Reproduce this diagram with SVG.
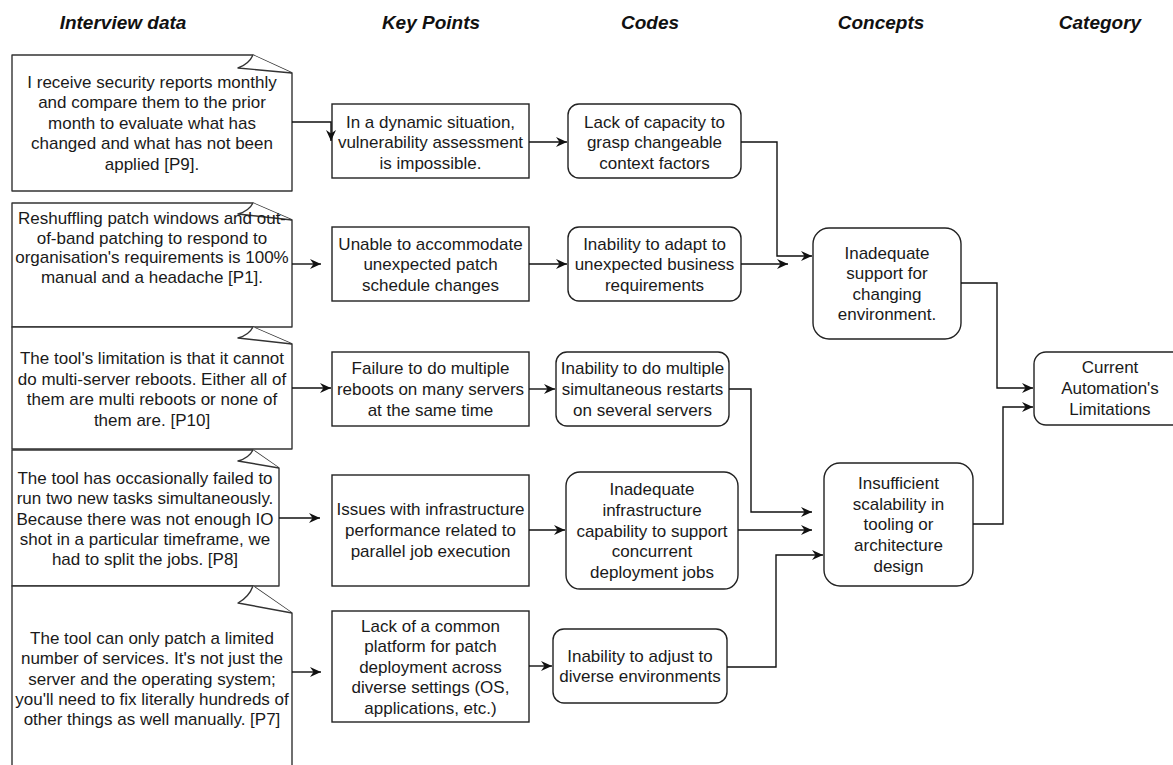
<svg xmlns="http://www.w3.org/2000/svg" width="1173" height="765" viewBox="0 0 1173 765">
<style>
.hdr{font-family:"Liberation Sans",Arial,sans-serif;font-size:19px;font-weight:bold;font-style:italic;fill:#111;text-anchor:middle}
.t{font-family:"Liberation Sans",Arial,sans-serif;font-size:17px;fill:#1a1a1a;text-anchor:middle}
.box{fill:#fff;stroke:#222;stroke-width:1.4}
.note{fill:#fff;stroke:#333;stroke-width:1.4;stroke-linejoin:round}
.edge{fill:none;stroke:#111;stroke-width:1.4}
</style>
<defs>
<marker id="arr" markerUnits="userSpaceOnUse" markerWidth="13" markerHeight="11" refX="11" refY="5" orient="auto">
<path d="M0,0 L11,5 L0,10 L3.5,5 Z" fill="#111"/>
</marker>
</defs>
<rect width="1173" height="765" fill="#fff"/>

<g id="headers">
<text class="hdr" x="123" y="29">Interview data</text>
<text class="hdr" x="431" y="29">Key Points</text>
<text class="hdr" x="650" y="29">Codes</text>
<text class="hdr" x="881" y="29">Concepts</text>
<text class="hdr" x="1100" y="29">Category</text>
</g>

<g id="note1">
<path class="note" d="M12,55 H253 L292,73 V191 H12 Z"/>
<path class="note" d="M253,55 Q249,64 238,68 L292,73"/>
<text class="t" x="152" y="88"><tspan x="152">I receive security reports monthly</tspan><tspan x="152" dy="20.4">and compare them to the prior</tspan><tspan x="152" dy="20.4">month to evaluate what has</tspan><tspan x="152" dy="20.4">changed and what has not been</tspan><tspan x="152" dy="20.4">applied [P9].</tspan></text>
</g>

<g id="note2">
<path class="note" d="M12,203 H253 L292,220 V327 H12 Z"/>
<path class="note" d="M253,203 Q249,211 238,214 L292,220"/>
<text class="t" x="152" y="224"><tspan x="152">Reshuffling patch windows and out-</tspan><tspan x="152" dy="19.7">of-band patching to respond to</tspan><tspan x="152" dy="19.7">organisation's requirements is 100%</tspan><tspan x="152" dy="19.7">manual and a headache [P1].</tspan></text>
</g>

<g id="note3">
<path class="note" d="M12,327 H253 L292,344 V449 H12 Z"/>
<path class="note" d="M253,327 Q249,335 238,338 L292,344"/>
<text class="t" x="152" y="364"><tspan x="152">The tool's limitation is that it cannot</tspan><tspan x="152" dy="20.6">do multi-server reboots. Either all of</tspan><tspan x="152" dy="20.6">them are multi reboots or none of</tspan><tspan x="152" dy="20.6">them are. [P10]</tspan></text>
</g>

<g id="note4">
<path class="note" d="M12,450 H253 L279,468 V586 H12 Z"/>
<path class="note" d="M253,450 Q249,458 238,461 L279,468"/>
<text class="t" x="145" y="484"><tspan x="145">The tool has occasionally failed to</tspan><tspan x="145" dy="20.3">run two new tasks simultaneously.</tspan><tspan x="145" dy="20.3">Because there was not enough IO</tspan><tspan x="145" dy="20.3">shot in a particular timeframe, we</tspan><tspan x="145" dy="20.3">had to split the jobs. [P8]</tspan></text>
</g>

<g id="note5">
<path class="note" d="M12,586 H253 L292,613 V775 H12 Z"/>
<path class="note" d="M253,586 Q249,597 238,603 L292,613"/>
<text class="t" x="152" y="644"><tspan x="152">The tool can only patch a limited</tspan><tspan x="152" dy="20.3">number of services. It's not just the</tspan><tspan x="152" dy="20.3">server and the operating system;</tspan><tspan x="152" dy="20.3">you'll need to fix literally hundreds of</tspan><tspan x="152" dy="20.3">other things as well manually. [P7]</tspan></text>
</g>

<g id="kp1">
<rect class="box" x="332" y="104" width="197" height="74"/>
<text class="t" x="430.5" y="128"><tspan x="430.5">In a dynamic situation,</tspan><tspan x="430.5" dy="20.4">vulnerability assessment</tspan><tspan x="430.5" dy="20.4">is impossible.</tspan></text>
</g>
<g id="kp2">
<rect class="box" x="332" y="227" width="197" height="74"/>
<text class="t" x="430.5" y="250"><tspan x="430.5">Unable to accommodate</tspan><tspan x="430.5" dy="20.4">unexpected patch</tspan><tspan x="430.5" dy="20.4">schedule changes</tspan></text>
</g>
<g id="kp3">
<rect class="box" x="332" y="352" width="197" height="74"/>
<text class="t" x="430.5" y="374"><tspan x="430.5">Failure to do multiple</tspan><tspan x="430.5" dy="20.8">reboots on many servers</tspan><tspan x="430.5" dy="20.8">at the same time</tspan></text>
</g>
<g id="kp4">
<rect class="box" x="332" y="475" width="197" height="111"/>
<text class="t" x="430.5" y="515"><tspan x="430.5">Issues with infrastructure</tspan><tspan x="430.5" dy="21">performance related to</tspan><tspan x="430.5" dy="21">parallel job execution</tspan></text>
</g>
<g id="kp5">
<rect class="box" x="332" y="611" width="197" height="111"/>
<text class="t" x="430.5" y="632"><tspan x="430.5">Lack of a common</tspan><tspan x="430.5" dy="20.4">platform for patch</tspan><tspan x="430.5" dy="20.4">deployment across</tspan><tspan x="430.5" dy="20.4">diverse settings (OS,</tspan><tspan x="430.5" dy="20.4">applications, etc.)</tspan></text>
</g>

<g id="code1">
<rect class="box" x="568" y="104" width="173" height="74" rx="11"/>
<text class="t" x="654.5" y="128"><tspan x="654.5">Lack of capacity to</tspan><tspan x="654.5" dy="20.4">grasp changeable</tspan><tspan x="654.5" dy="20.4">context factors</tspan></text>
</g>
<g id="code2">
<rect class="box" x="568" y="227" width="173" height="74" rx="11"/>
<text class="t" x="654.5" y="250"><tspan x="654.5">Inability to adapt to</tspan><tspan x="654.5" dy="20.4">unexpected business</tspan><tspan x="654.5" dy="20.4">requirements</tspan></text>
</g>
<g id="code3">
<rect class="box" x="556" y="352" width="173" height="74" rx="11"/>
<text class="t" x="642.5" y="374"><tspan x="642.5">Inability to do multiple</tspan><tspan x="642.5" dy="20.8">simultaneous restarts</tspan><tspan x="642.5" dy="20.8">on several servers</tspan></text>
</g>
<g id="code4">
<rect class="box" x="566" y="472" width="172" height="117" rx="14"/>
<text class="t" x="652" y="495"><tspan x="652">Inadequate</tspan><tspan x="652" dy="20.8">infrastructure</tspan><tspan x="652" dy="20.8">capability to support</tspan><tspan x="652" dy="20.8">concurrent</tspan><tspan x="652" dy="20.8">deployment jobs</tspan></text>
</g>
<g id="code5">
<rect class="box" x="553" y="629" width="174" height="74" rx="11"/>
<text class="t" x="640" y="662"><tspan x="640">Inability to adjust to</tspan><tspan x="640" dy="20.4">diverse environments</tspan></text>
</g>

<g id="concept1">
<rect class="box" x="813" y="228" width="148" height="111" rx="16"/>
<text class="t" x="887" y="259"><tspan x="887">Inadequate</tspan><tspan x="887" dy="20.4">support for</tspan><tspan x="887" dy="20.4">changing</tspan><tspan x="887" dy="20.4">environment.</tspan></text>
</g>
<g id="concept2">
<rect class="box" x="824" y="463" width="149" height="123" rx="16"/>
<text class="t" x="898.5" y="489"><tspan x="898.5">Insufficient</tspan><tspan x="898.5" dy="20.7">scalability in</tspan><tspan x="898.5" dy="20.7">tooling or</tspan><tspan x="898.5" dy="20.7">architecture</tspan><tspan x="898.5" dy="20.7">design</tspan></text>
</g>

<g id="category">
<rect class="box" x="1034" y="352" width="152" height="73" rx="12"/>
<text class="t" x="1110" y="373"><tspan x="1110">Current</tspan><tspan x="1110" dy="20.8">Automation's</tspan><tspan x="1110" dy="20.8">Limitations</tspan></text>
</g>

<g id="connectors">
<path class="edge" marker-end="url(#arr)" d="M292,122 H331 V141"/>
<path class="edge" marker-end="url(#arr)" d="M292,264 H321"/>
<path class="edge" marker-end="url(#arr)" d="M292,388 H331"/>
<path class="edge" marker-end="url(#arr)" d="M279,518 H320"/>
<path class="edge" marker-end="url(#arr)" d="M292,672 H321"/>
<path class="edge" marker-end="url(#arr)" d="M529,142 H567"/>
<path class="edge" marker-end="url(#arr)" d="M529,264 H567"/>
<path class="edge" marker-end="url(#arr)" d="M529,389 H555"/>
<path class="edge" marker-end="url(#arr)" d="M529,530 H565"/>
<path class="edge" marker-end="url(#arr)" d="M529,666 H552"/>
<path class="edge" marker-end="url(#arr)" d="M741,142 H777 V256 H812"/>
<path class="edge" marker-end="url(#arr)" d="M741,264 H788"/>
<path class="edge" marker-end="url(#arr)" d="M961,283 H997 V388 H1033"/>
<path class="edge" marker-end="url(#arr)" d="M729,389 H751 V512 H812"/>
<path class="edge" marker-end="url(#arr)" d="M738,530 H812"/>
<path class="edge" marker-end="url(#arr)" d="M727,667 H776 V555 H823"/>
<path class="edge" marker-end="url(#arr)" d="M973,524 H1003 V407 H1033"/>
</g>
</svg>
